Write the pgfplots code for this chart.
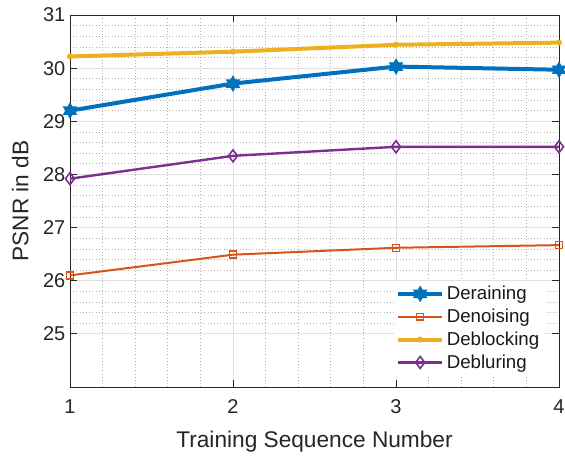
\documentclass[border=0pt]{standalone}
\usepackage{fontspec}
\setmainfont{Liberation Sans}
\usepackage{pgfplots}
\pgfplotsset{compat=1.18}
\usetikzlibrary{plotmarks}
\definecolor{mblue}{rgb}{0,0.447,0.741}
\definecolor{morange}{rgb}{0.85,0.325,0.098}
\definecolor{myellow}{rgb}{0.929,0.694,0.125}
\definecolor{mpurple}{rgb}{0.494,0.184,0.556}
\definecolor{axgray}{rgb}{0.15,0.15,0.15}
\pgfdeclareplotmark{hexagram}{%
  \pgfpathmoveto{\pgfpointpolar{90}{\pgfplotmarksize}}%
  \pgfpathlineto{\pgfpointpolar{120}{0.577\pgfplotmarksize}}%
  \pgfpathlineto{\pgfpointpolar{150}{\pgfplotmarksize}}%
  \pgfpathlineto{\pgfpointpolar{180}{0.577\pgfplotmarksize}}%
  \pgfpathlineto{\pgfpointpolar{210}{\pgfplotmarksize}}%
  \pgfpathlineto{\pgfpointpolar{240}{0.577\pgfplotmarksize}}%
  \pgfpathlineto{\pgfpointpolar{270}{\pgfplotmarksize}}%
  \pgfpathlineto{\pgfpointpolar{300}{0.577\pgfplotmarksize}}%
  \pgfpathlineto{\pgfpointpolar{330}{\pgfplotmarksize}}%
  \pgfpathlineto{\pgfpointpolar{0}{0.577\pgfplotmarksize}}%
  \pgfpathlineto{\pgfpointpolar{30}{\pgfplotmarksize}}%
  \pgfpathlineto{\pgfpointpolar{60}{0.577\pgfplotmarksize}}%
  \pgfpathclose
  \pgfusepathqfillstroke}
\begin{document}
\begin{tikzpicture}
\path[use as bounding box] (-52.5pt,-51pt) rectangle (371.25pt,290.25pt);
\begin{axis}[
  scale only axis,
  width=366.75pt, height=279pt,
  xmin=1, xmax=4, ymin=24, ymax=31,
  xtick={1,2,3,4}, ytick={25,26,...,31},
  minor x tick num=4, minor y tick num=4,
  grid=both,
  major grid style={draw=black!12, line width=0.6pt},
  minor grid style={draw=black!30, dotted, line width=0.5pt},
  axis line style={draw=axgray, line width=0.6pt},
  tick style={draw=axgray, line width=0.6pt},
  major tick length=5pt, minor tick length=0pt,
  tick align=inside,
  xtick pos=both, ytick pos=both,
  /pgf/number format/assume math mode=true,
  ticklabel style={font=\fontsize{15}{18}\selectfont, text=axgray},
  xticklabel style={yshift=-6pt},
  label style={font=\fontsize{17}{20}\selectfont, text=axgray},
  xlabel={Training Sequence Number},
  ylabel={PSNR in dB},
  xlabel style={yshift=-6pt},
  ylabel style={yshift=4pt},
  legend style={at={(0.971,0.03)}, anchor=south east, draw=none, fill=white,
    font=\fontsize{14}{16}\selectfont, text=black!90, row sep=1.5pt,
    inner xsep=2pt, inner ysep=2pt},
  legend cell align=left,
  legend image code/.code={\draw[mark repeat=2,mark phase=2] plot coordinates {(0cm,0cm) (0.58cm,0cm) (1.16cm,0cm)};},
]
\addplot[color=mblue, line width=3pt, mark=hexagram, mark size=5.5pt, mark options={fill=mblue, line width=0.8pt, solid}]
  coordinates {(1,29.20) (2,29.71) (3,30.03) (4,29.97)};
\addlegendentry{Deraining}
\addplot[color=morange, line width=1.5pt, mark=square, mark size=2.6pt, mark options={line width=1.1pt, solid}]
  coordinates {(1,26.10) (2,26.49) (3,26.62) (4,26.67)};
\addlegendentry{Denoising}
\addplot[color=myellow, line width=3pt, mark=*, mark size=2pt, mark options={fill=myellow, line width=0.5pt}]
  coordinates {(1,30.22) (2,30.31) (3,30.44) (4,30.48)};
\addlegendentry{Deblocking}
\addplot[color=mpurple, line width=1.8pt, mark=diamond, mark size=4.5pt, mark options={line width=1.2pt, solid}]
  coordinates {(1,27.92) (2,28.35) (3,28.52) (4,28.52)};
\addlegendentry{Debluring}
\end{axis}
\end{tikzpicture}
\end{document}
